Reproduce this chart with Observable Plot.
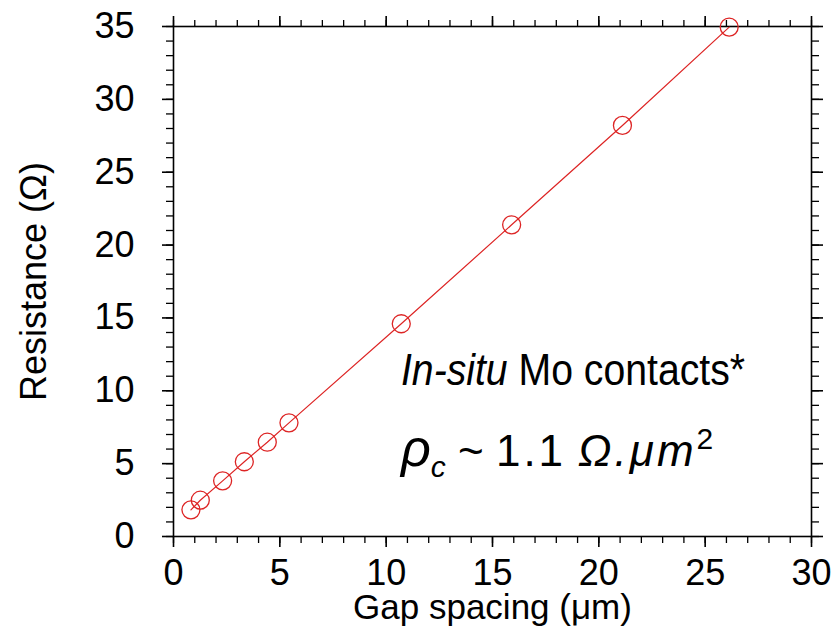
<!DOCTYPE html>
<html><head><meta charset="utf-8">
<script src="https://cdn.jsdelivr.net/npm/d3@7"></script>
<script src="https://cdn.jsdelivr.net/npm/@observablehq/plot@0.6"></script>
<style>body{margin:0;background:#fff;} #chart svg{display:block;}</style>
</head><body><div id="chart"></div>
<script>
// Data
const gap = [0.82, 1.26, 2.31, 3.33, 4.41, 5.43, 10.71, 15.90, 21.11, 26.13];
const resistance = [1.83, 2.49, 3.82, 5.13, 6.47, 7.80, 14.60, 21.39, 28.21, 34.96];
const xTicks = [0, 5, 10, 15, 20, 25, 30];
const yTicks = [0, 5, 10, 15, 20, 25, 30, 35];
const xMinor = [0,1,2,3,4,5,6,7,8,9,10,11,12,13,14,15,16,17,18,19,20,21,22,23,24,25,26,27,28,29,30];
const yMinor = [0,1,2,3,4,5,6,7,8,9,10,11,12,13,14,15,16,17,18,19,20,21,22,23,24,25,26,27,28,29,30,31,32,33,34,35];
const annX = 10.72;
const annY1 = 10.36;
const annY2 = 4.8;

const data = gap.map((g, i) => ({gap: g, r: resistance[i]}));
const red = "#dd2424";
const font = "'Liberation Sans', Arial, Helvetica, sans-serif";
const blank = () => "";

const chart = Plot.plot({
  width: 835, height: 634,
  marginLeft: 173, marginRight: 24, marginTop: 26, marginBottom: 98,
  x: {domain: [0, 30]},
  y: {domain: [0, 35]},
  style: {fontFamily: font, fontSize: "36px", color: "#000", background: "#fff"},
  marks: [
    Plot.axisX(xMinor, {anchor: "bottom", tickSize: 7, tickFormat: blank, label: null, strokeWidth: 1.3}),
    Plot.axisX(xMinor, {anchor: "top", tickSize: 7, tickFormat: blank, label: null, strokeWidth: 1.3}),
    Plot.axisY(yMinor, {anchor: "left", tickSize: 7, tickFormat: blank, label: null, strokeWidth: 1.3}),
    Plot.axisY(yMinor, {anchor: "right", tickSize: 7, tickFormat: blank, label: null, strokeWidth: 1.3}),
    Plot.axisX(xTicks, {anchor: "bottom", tickSize: 11, tickPadding: 12, fontSize: 36, strokeWidth: 1.6, label: null}),
    Plot.axisX({anchor: "bottom", ticks: [], tickSize: 0, fontSize: 35,
      label: "Gap spacing (μm)", labelAnchor: "center", labelOffset: 82, labelArrow: "none"}),
    Plot.axisX(xTicks, {anchor: "top", tickSize: 11, tickFormat: blank, label: null, strokeWidth: 1.6}),
    Plot.axisY(yTicks, {anchor: "left", tickSize: 11, tickPadding: 28, fontSize: 36, strokeWidth: 1.6, label: null}),
    Plot.axisY({anchor: "left", ticks: [], tickSize: 0, fontSize: 36,
      label: "Resistance (Ω)", labelAnchor: "center", labelOffset: 153, labelArrow: "none"}),
    Plot.axisY(yTicks, {anchor: "right", tickSize: 11, tickFormat: blank, label: null, strokeWidth: 1.6}),
    Plot.frame({stroke: "#000", strokeWidth: 1.6}),
    Plot.line(data, {x: "gap", y: "r", stroke: red, strokeWidth: 1.2}),
    Plot.dot(data, {x: "gap", y: "r", r: 9, stroke: red, fill: "none", strokeWidth: 1.3})
  ]
});
document.getElementById("chart").appendChild(chart);

// Annotations positioned through the plot's own scales
const sx = chart.scale("x"), sy = chart.scale("y");
const svg = d3.select(chart);
const t1 = svg.append("text")
  .attr("x", sx.apply(annX)).attr("y", sy.apply(annY1))
  .attr("text-anchor", "start")
  .attr("font-family", font).attr("font-size", 44).attr("fill", "#000")
  .attr("textLength", 344).attr("lengthAdjust", "spacingAndGlyphs");
t1.append("tspan").attr("font-style", "italic").text("In-situ");
t1.append("tspan").text(" Mo contacts*");

const t2 = svg.append("text")
  .attr("x", sx.apply(annX)).attr("y", sy.apply(annY2))
  .attr("text-anchor", "start")
  .attr("font-family", font).attr("font-size", 44).attr("fill", "#000");
t2.append("tspan").attr("font-style", "italic").attr("font-size", 52).text("ρ");
t2.append("tspan").attr("font-style", "italic").attr("font-size", 30).attr("dy", 11).text("c");
t2.append("tspan").attr("dy", -11).text(" ~ ");
t2.append("tspan").attr("letter-spacing", 3).text("1.1");
t2.append("tspan").attr("font-style", "italic").attr("dx", 12).attr("letter-spacing", 3).text("Ω.μm");
t2.append("tspan").attr("font-size", 30).attr("dy", -17).text("2");
</script>
</body></html>
